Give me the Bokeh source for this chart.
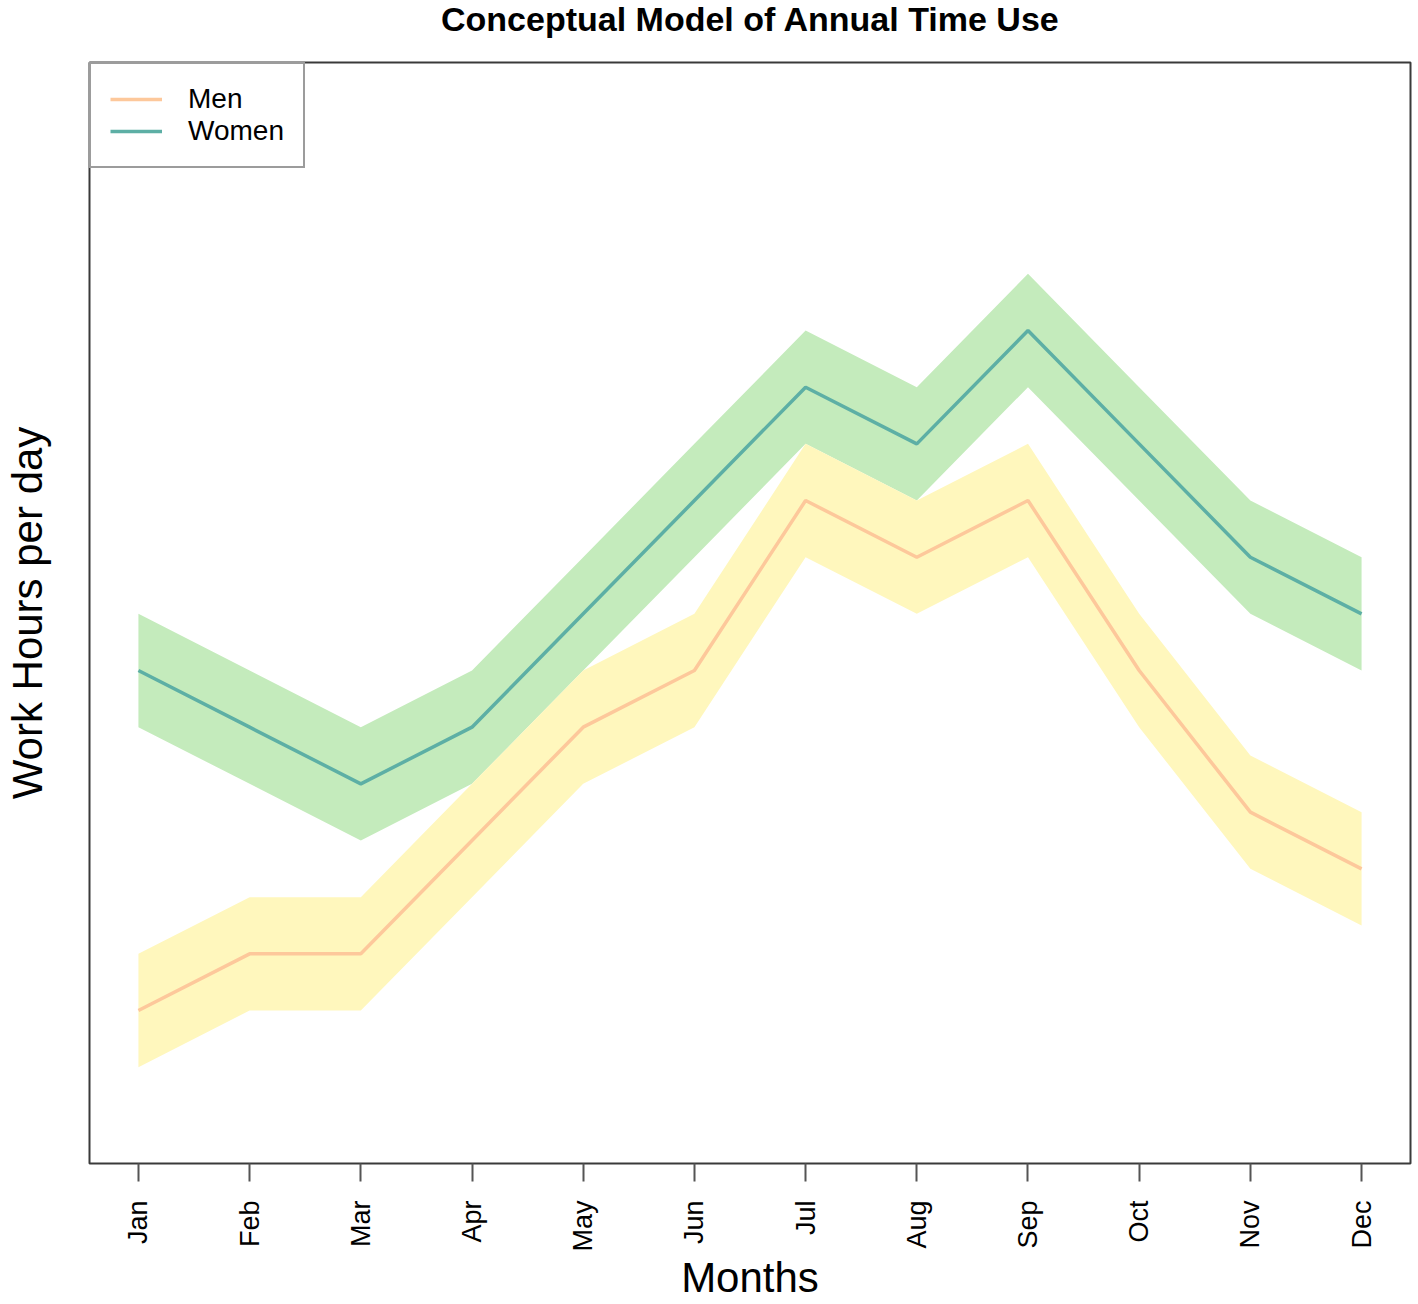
import math
import numpy as np
from bokeh.plotting import figure
from bokeh.layouts import column
from bokeh.models import FixedTicker, Label, Legend, LegendItem, Range1d
from bokeh.embed import file_html
from bokeh.resources import INLINE

# ---- data (arbitrary units, no y ticks shown) ----
title_text = "Conceptual Model of Annual Time Use"
months = ["Jan", "Feb", "Mar", "Apr", "May", "Jun",
          "Jul", "Aug", "Sep", "Oct", "Nov", "Dec"]
month_pos = list(range(1, 13))
men = [0, 1, 1, 3, 5, 6, 9, 8, 9, 6, 3.5, 2.5]
women = [6, 5, 4, 5, 7, 9, 11, 10, 12, 10, 8, 7]
band_spread = 1.0  # half-width of the conceptual uncertainty band

men_lo = list(np.array(men) - band_spread)
men_hi = list(np.array(men) + band_spread)
women_lo = list(np.array(women) - band_spread)
women_hi = list(np.array(women) + band_spread)

FONT = "Liberation Sans"
W, H = 1418, 1304
TH = 40                      # height of the title strip
ML, MR, MT, MB = 88, 8, 62 - TH, 141
FW = W - ML - MR

# ---- title strip (separate small svg figure; column aligns its frame
#      with the main frame, so screen x is measured from the frame left) ----
t = figure(width=W, height=TH, x_range=Range1d(0, 1), y_range=Range1d(0, 1),
           output_backend="svg", toolbar_location=None,
           x_axis_location=None, y_axis_location=None,
           min_border_left=ML, min_border_right=MR,
           min_border_top=0, min_border_bottom=0)
t.outline_line_color = None
t.xgrid.visible = False
t.ygrid.visible = False
t.title.text = ""
t.title.standoff = 0
t.background_fill_color = "white"
t.border_fill_color = "white"
t.add_layout(Label(x=FW / 2, y=TH - 18, text=title_text,
                   x_units="screen", y_units="screen",
                   text_align="center", text_baseline="middle",
                   text_font=FONT, text_font_size="34px",
                   text_font_style="bold", text_color="black"))

# ---- main figure ----
p = figure(width=W, height=H - TH,
           x_range=Range1d(0.56, 12.44), y_range=Range1d(-2.7, 16.73),
           output_backend="svg", toolbar_location=None,
           min_border_left=ML, min_border_right=MR,
           min_border_top=MT, min_border_bottom=MB)

p.background_fill_color = "white"
p.border_fill_color = "white"
p.xgrid.visible = False
p.ygrid.visible = False
p.outline_line_color = "#3a3a3a"
p.outline_line_width = 2
p.title.text = ""
p.title.standoff = 0

# y axis: no ticks, only its label
ya = p.yaxis[0]
ya.ticker = FixedTicker(ticks=[])
ya.major_tick_out = 0
ya.major_tick_in = 0
ya.minor_tick_line_color = None
ya.axis_line_color = None
ya.axis_label = "Work Hours per day"
ya.axis_label_text_font = FONT
ya.axis_label_text_font_size = "42px"
ya.axis_label_text_font_style = "normal"
ya.axis_label_text_color = "black"
ya.axis_label_standoff = 39

# bands
p.varea(x=month_pos, y1=women_lo, y2=women_hi, fill_color="#C4EBBC", fill_alpha=1.0)
p.varea(x=month_pos, y1=men_lo, y2=men_hi, fill_color="#FFF7BD", fill_alpha=1.0)

# lines
women_line = p.line(month_pos, women, line_color="#5DAFA5", line_width=3.5)
men_line = p.line(month_pos, men, line_color="#FDC89B", line_width=3.5)

legend = Legend(items=[LegendItem(label="Men", renderers=[men_line]),
                       LegendItem(label="Women", renderers=[women_line])],
                location="top_left")
legend.margin = 0
legend.padding = 19
legend.spacing = 0
legend.glyph_width = 52
legend.glyph_height = 30
legend.label_height = 30
legend.label_standoff = 26
legend.label_text_font = FONT
legend.label_text_font_size = "28px"
legend.label_text_color = "black"
legend.border_line_color = "#3a3a3a"
legend.border_line_width = 2
legend.background_fill_color = "white"
legend.background_fill_alpha = 1.0
p.add_layout(legend)

# x axis
xa = p.xaxis[0]
xa.ticker = FixedTicker(ticks=month_pos)
xa.major_label_overrides = {m: lab for m, lab in zip(month_pos, months)}
xa.major_label_orientation = math.pi / 2
xa.major_label_text_font = FONT
xa.major_label_text_font_size = "27px"
xa.major_label_text_color = "black"
xa.major_label_standoff = 19
xa.major_tick_in = 0
xa.major_tick_out = 18
xa.major_tick_line_color = "#555555"
xa.major_tick_line_width = 2
xa.minor_tick_line_color = None
xa.axis_line_color = None
xa.axis_label = "Months"
xa.axis_label_text_font = FONT
xa.axis_label_text_font_size = "42px"
xa.axis_label_text_font_style = "normal"
xa.axis_label_text_color = "black"
xa.axis_label_standoff = -1

layout = column(t, p, spacing=0)
open("out.html", "w").write(file_html(layout, INLINE))
